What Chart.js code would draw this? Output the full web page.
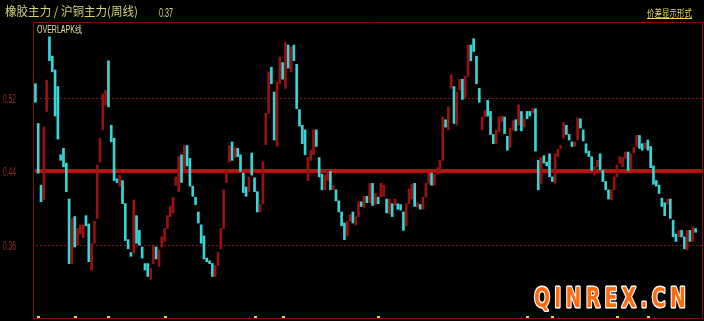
<!DOCTYPE html>
<html lang="zh">
<head>
<meta charset="UTF-8" />
<title>橡胶主力 / 沪铜主力(周线)</title>
<style>
  html, body { margin: 0; padding: 0; background: #000; }
  #ratioChart { display: block; }
</style>
</head>
<body>
<canvas id="ratioChart" width="704" height="321"></canvas>
<script src="https://cdn.jsdelivr.net/npm/chart.js"></script>
<script>
  // weekly ratio bars (open -> close)
  const opens = [
    .535,.492,.425,.409,.505,.586,.565,.550,.532,.458,.465,.449,.410,.340,.391,.360,.372,.368,.392,.383,
    .333,.362,.389,.450,.485,.512,.560,.490,.476,.432,.424,.430,.405,.366,.352,.351,.392,.376,.358,.340,
    .340,.323,.340,.358,.337,.358,.364,.378,.391,.395,.425,.418,.458,.438,.468,.454,.424,.412,.396,.382,
    .370,.346,.343,.340,.326,.338,.356,.378,.428,.450,.472,.455,.465,.458,.438,.423,.418,.460,.433,.418,
    .396,.405,.469,.503,.553,.526,.467,.535,.558,.530,.577,.548,.577,.556,.507,.490,.485,.430,.452,.458,
    .485,.455,.437,.420,.430,.440,.420,.420,.408,.396,.384,.370,.386,.396,.382,.391,.407,.401,.413,.406,
    .427,.404,.412,.412,.413,.410,.394,.405,.403,.405,.404,.396,.381,.405,.410,.427,.401,.404,.399,.412,
    .427,.438,.425,.437,.441,.452,.496,.485,.530,.532,.490,.528,.540,.520,.543,.577,.584,.565,.530,.485,
    .499,.517,.505,.480,.470,.483,.494,.499,.478,.466,.485,.496,.490,.505,.488,.505,.505,.503,.508,.452,
    .427,.457,.450,.459,.434,.427,.456,.465,.476,.490,.480,.472,.467,.474,.497,.485,.470,.462,.456,.436,
    .445,.459,.441,.429,.420,.409,.420,.434,.449,.445,.454,.461,.443,.460,.467,.479,.470,.465,.474,.467,
    .446,.430,.425,.411,.406,.404,.410,.387,.372,.369,.376,.369,.355,.376,.364,.378
  ];
  const closes = [
    .515,.438,.407,.488,.539,.560,.548,.500,.475,.452,.445,.418,.340,.389,.358,.378,.382,.382,.381,.342,
    .362,.386,.447,.476,.524,.528,.510,.472,.430,.428,.436,.405,.365,.356,.348,.409,.362,.360,.346,.333,
    .326,.335,.360,.345,.355,.369,.378,.392,.402,.412,.434,.456,.428,.468,.446,.424,.413,.404,.384,.362,
    .345,.342,.340,.326,.338,.352,.378,.420,.442,.468,.452,.466,.456,.440,.417,.413,.434,.436,.418,.396,
    .404,.450,.503,.548,.535,.474,.537,.564,.540,.580,.552,.575,.560,.508,.489,.470,.458,.455,.463,.485,
    .467,.434,.420,.436,.441,.420,.425,.408,.396,.381,.366,.386,.393,.384,.391,.407,.402,.413,.406,.427,
    .403,.416,.405,.427,.425,.395,.410,.391,.410,.399,.398,.376,.405,.421,.426,.402,.406,.399,.412,.427,
    .438,.425,.437,.444,.452,.499,.488,.510,.545,.492,.526,.540,.518,.543,.577,.560,.570,.535,.515,.499,
    .506,.500,.480,.470,.485,.499,.500,.481,.463,.487,.495,.484,.512,.484,.497,.497,.500,.508,.462,.420,
    .455,.449,.446,.434,.429,.459,.464,.468,.493,.480,.474,.467,.472,.498,.487,.473,.460,.456,.441,.445,
    .452,.442,.429,.420,.410,.420,.434,.447,.456,.455,.461,.441,.459,.466,.479,.465,.463,.471,.463,.444,
    .426,.424,.416,.402,.392,.410,.389,.369,.364,.376,.369,.356,.376,.364,.380,.374
  ];
  const yTicks = [0.36, 0.44, 0.52];
  const baseLevel = 0.44;
  const markWeeks = [1, 14, 26, 46, 78, 88, 122, 175, 184, 207, 218];
  const lastValue = '0.37';

  const UP = '#9a1111', DOWN = '#36d6d6', FLAT = '#d0d0d0';

  function fitText(ctx, text, x, y, w, font, color) {
    ctx.save();
    ctx.font = font;
    ctx.fillStyle = color;
    const m = ctx.measureText(text).width;
    ctx.translate(x, y);
    ctx.scale(w / m, 1);
    ctx.fillText(text, 0, 0);
    ctx.restore();
  }

  const overlay = {
    id: 'overlay',
    beforeDraw(chart) {
      const {ctx, width, height} = chart;
      ctx.save();
      ctx.fillStyle = '#000';
      ctx.fillRect(0, 0, width, height);
      ctx.restore();
    },
    beforeDatasetsDraw(chart) {
      const {ctx, chartArea: a, scales: {y}} = chart;
      const right = chart.width - 2;
      ctx.save();
      ctx.strokeStyle = '#7a0d0d';
      ctx.lineWidth = 1;
      ctx.beginPath();
      ctx.moveTo(a.left - 0.5, a.top + 0.5);
      ctx.lineTo(chart.width, a.top + 0.5);
      ctx.moveTo(a.left - 0.5, a.top);
      ctx.lineTo(a.left - 0.5, a.bottom + 0.5);
      ctx.lineTo(right + 0.5, a.bottom + 0.5);
      ctx.moveTo(right + 0.5, a.top);
      ctx.lineTo(right + 0.5, a.bottom + 0.5);
      ctx.stroke();

      yTicks.forEach(v => {
        const py = Math.round(y.getPixelForValue(v));
        if (v === baseLevel) {
          ctx.fillStyle = '#bb1010';
          ctx.fillRect(a.left + 1, py - 2, right - a.left - 1, 4);
        } else {
          ctx.strokeStyle = '#861818';
          ctx.setLineDash([2, 2]);
          ctx.beginPath();
          ctx.moveTo(a.left + 2, py + 0.5);
          ctx.lineTo(right, py + 0.5);
          ctx.stroke();
          ctx.setLineDash([]);
        }
        fitText(ctx, v.toFixed(2), 3, py + 4.5, 13, '12px "Liberation Sans"', '#962828');
      });
      ctx.restore();
    },
    afterDatasetsDraw(chart) {
      const {ctx, chartArea: a, scales: {x}} = chart;
      ctx.save();
      // header
      fitText(ctx, '橡胶主力 / 沪铜主力(周线)', 5, 16, 133, '12px "Noto Sans CJK SC"', '#d6d67a');
      fitText(ctx, lastValue, 159, 17, 14, '13px "Liberation Sans"', '#d6d67a');
      fitText(ctx, '价差显示形式', 647, 16.5, 45, '10px "Noto Sans CJK SC"', '#eedc50');
      ctx.fillStyle = '#eedc50';
      ctx.fillRect(647, 18, 45, 1);
      fitText(ctx, 'OVERLAPK线', 37, 33, 45, '10px "Liberation Sans"', '#e0e09a');

      // period marks on the bottom edge
      ctx.fillStyle = '#f0cf4a';
      markWeeks.forEach(i => {
        const px = Math.round(x.getPixelForValue(i));
        ctx.fillRect(px - 1, a.bottom - 2, 3, 2);
      });

      // watermark
      ctx.font = 'bold 27px "DejaVu Sans"';
      ctx.letterSpacing = '6px';
      const label = 'QINREX.CN';
      const w = ctx.measureText(label).width;
      ctx.translate(534, 307);
      ctx.scale(156 / w, 1);
      ctx.lineJoin = 'round';
      ctx.lineWidth = 3;
      ctx.strokeStyle = '#ffffff';
      ctx.strokeText(label, 0, 0);
      ctx.fillStyle = '#ff6a0c';
      ctx.fillText(label, 0, 0);
      ctx.restore();
    }
  };

  const ctx = document.getElementById('ratioChart').getContext('2d');

  new Chart(ctx, {
    type: 'bar',
    data: {
      labels: opens.map((_, i) => i),
      datasets: [{
        data: opens.map((o, i) => [o, closes[i]]),
        backgroundColor: opens.map((o, i) => closes[i] > o ? UP : closes[i] < o ? DOWN : FLAT),
        borderWidth: 0,
        barThickness: 2,
        minBarLength: 1
      }]
    },
    options: {
      responsive: false,
      animation: false,
      devicePixelRatio: 1,
      layout: { padding: { top: 22, right: 7, bottom: 3, left: 0 } },
      plugins: {
        legend: { display: false },
        tooltip: { enabled: false }
      },
      scales: {
        x: { display: false },
        y: {
          min: 0.281,
          max: 0.602,
          grid: { display: false },
          border: { display: false },
          ticks: { display: false },
          afterFit: s => { s.width = 34; }
        }
      }
    },
    plugins: [overlay]
  });
</script>
</body>
</html>
